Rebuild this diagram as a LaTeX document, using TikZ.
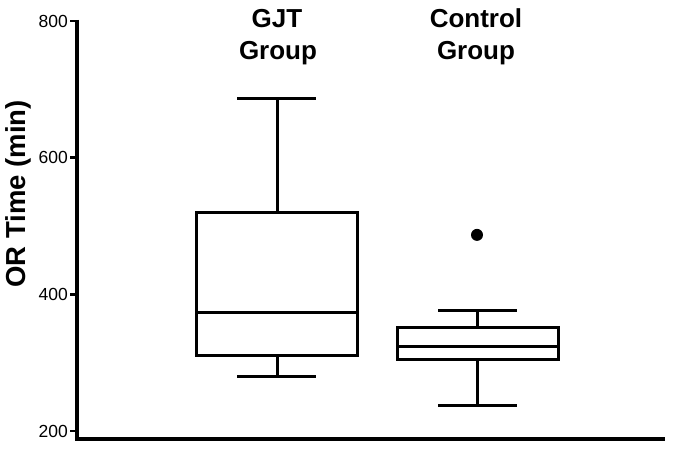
\documentclass[tikz,border=0pt]{standalone}
\usepackage{fontspec}
\setmainfont{Liberation Sans}
\tikzset{
  boxline/.style={line width=3pt},
  ticklab/.style={anchor=east, inner sep=0pt, font=\fontsize{17.5}{20}\selectfont},
  grouplab/.style={anchor=base, inner sep=0pt, font=\fontsize{26}{32}\selectfont\bfseries}
}
\begin{document}
\begin{tikzpicture}[x=1pt, y=1pt]
\useasboundingbox (0,0) rectangle (683,453);
% axes
\draw[line width=3.5pt] (77,433) -- (77,14) -- (665,14);
\node[rotate=90, inner sep=0pt, font=\fontsize{27.5}{30}\selectfont\bfseries] (ylab) at (18,259) {OR Time (min)};
% group titles
\node[grouplab] (gjt) at (277,425) {GJT};
\node[grouplab] (gjtgroup) at (278,393) {Group};
\node[grouplab] (ctrl) at (476,425) {Control};
\node[grouplab] (ctrlgroup) at (476,393) {Group};
\begin{scope}[shift={(0,-114.66)}, y=0.6833pt]
\foreach \v in {200,400,600,800} {
  \draw[line width=2.5pt] (70,\v) -- (78,\v);
  \node[ticklab] (tick\v) at (68,\v) {\v};
}
% GJT group
\draw[boxline] (196,310) rectangle (357,520);
\draw[boxline] (196,373) -- (357,373);
\draw[boxline] (277,520) -- (277,686);
\draw[boxline] (237,686) -- (316,686);
\draw[boxline] (277,310) -- (277,280);
\draw[boxline] (237,280) -- (316,280);
% control group
\draw[boxline] (397,305) rectangle (558,351);
\draw[boxline] (397,324) -- (558,324);
\draw[boxline] (477,351) -- (477,376);
\draw[boxline] (438,376) -- (517,376);
\draw[boxline] (477,305) -- (477,237);
\draw[boxline] (438,237) -- (517,237);
\fill (477,487) circle (6pt);
\end{scope}
\end{tikzpicture}
\end{document}
